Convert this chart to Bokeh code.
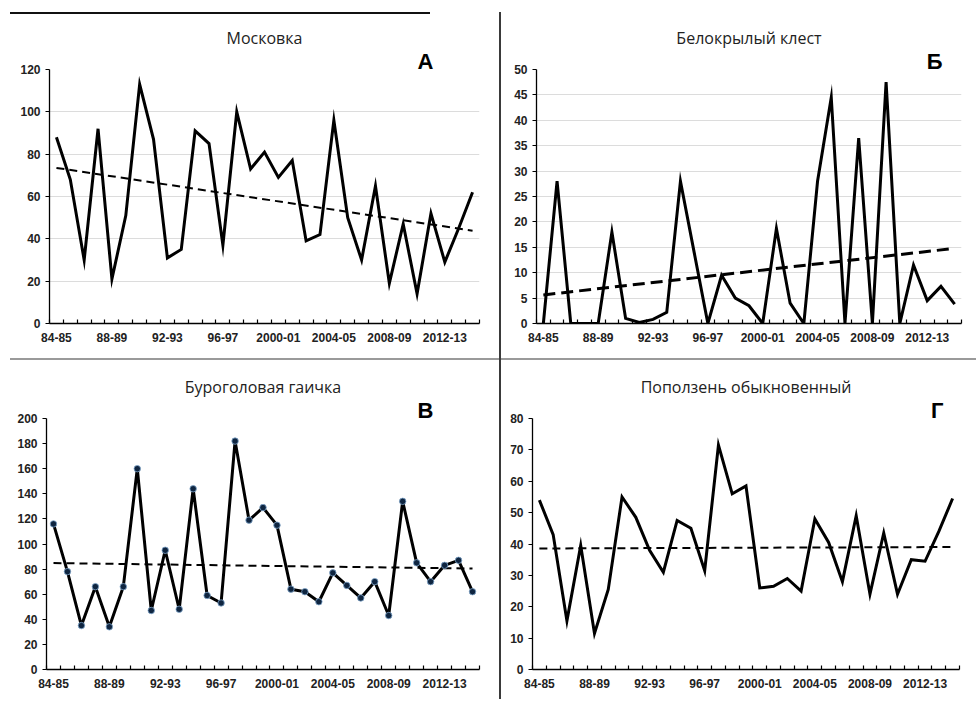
import numpy as np
from bokeh.plotting import figure
from bokeh.layouts import column, row
from bokeh.models import FixedTicker, Div, Title
from bokeh.embed import file_html
from bokeh.resources import INLINE

seasons = ["84-85", "85-86", "86-87", "87-88", "88-89", "89-90", "90-91", "91-92",
           "92-93", "93-94", "94-95", "95-96", "96-97", "97-98", "98-99", "99-00",
           "2000-01", "2001-02", "2002-03", "2003-04", "2004-05", "2005-06", "2006-07",
           "2007-08", "2008-09", "2009-10", "2010-11", "2011-12", "2012-13", "2013-14",
           "2014-15"]

moskovka = [88, 68, 30, 92, 21, 51, 113, 87, 31, 35, 91, 85, 37, 100, 73, 81, 69, 77,
            39, 42, 96, 50, 30, 65, 19, 47, 14, 52, 29, 45, 62]
klest = [0, 28, 0, 0, 0, 18, 1, 0.2, 0.8, 2.2, 28, 14, 0, 9.5, 5, 3.5, 0, 18.7, 4, 0,
         28, 44.5, 0, 36.5, 0, 47.5, 0, 11.5, 4.5, 7.3, 3.8]
gaichka = [116, 78, 35, 66, 34, 66, 160, 47, 95, 48, 144, 59, 53, 182, 119, 129, 115,
           64, 62, 54, 77, 67, 57, 70, 43, 134, 85, 70, 83, 87, 62]
popolzen = [54, 43, 15.5, 39.5, 11.5, 25.5, 55, 48.5, 38, 31, 47.5, 45, 31.5, 71.5, 56,
            58.5, 26, 26.5, 29, 25, 48, 40.5, 28, 49, 24, 43.5, 24, 35, 34.5, 44, 54.5]

titles = ["Московка", "Белокрылый клест", "Буроголовая гаичка", "Поползень обыкновенный"]
letters = ["А", "Б", "В", "Г"]

TICK_FONT = "Liberation Sans"
TITLE_FONT = "Open Sans"


def make_panel(vals, title, letter, ymax, ystep, w, h, bl, br, bt, bb,
               letter_offset, grid, markers, trend_w, trend_dash):
    n = len(seasons)
    xs = list(range(n))
    p = figure(width=w, height=h, output_backend="svg", toolbar_location=None,
               x_range=(-0.5, n - 0.5), y_range=(0, ymax),
               min_border_left=bl, min_border_right=br,
               min_border_top=bt, min_border_bottom=bb)
    p.outline_line_color = None
    p.background_fill_color = "white"
    p.border_fill_color = "white"

    # panel letter, sitting on the top edge of the frame
    lt = Title(text=letter, align="right", offset=letter_offset, standoff=-8,
               text_font="Liberation Sans", text_font_size="22px",
               text_font_style="bold", text_color="black",
               background_fill_color="white")
    p.add_layout(lt, "above")

    p.title.text = title
    p.title.align = "center"
    p.title.text_font = TITLE_FONT
    p.title.text_font_size = "16px"
    p.title.text_font_style = "normal"
    p.title.text_color = "#222222"
    p.title.standoff = 4

    xa = p.xaxis[0]
    xa.ticker = FixedTicker(ticks=list(range(0, n, 4)),
                            minor_ticks=[i - 0.5 for i in range(n + 1)])
    xa.major_label_overrides = {i: seasons[i] for i in range(0, n, 4)}
    xa.major_tick_in = 0
    xa.major_tick_out = 0
    xa.minor_tick_in = 4
    xa.minor_tick_out = 0
    xa.minor_tick_line_color = "black"
    xa.minor_tick_line_width = 1.2
    xa.axis_line_color = "black"
    xa.axis_line_width = 1.3
    xa.major_label_text_font = TICK_FONT
    xa.major_label_text_font_style = "bold"
    xa.major_label_text_font_size = "12px"
    xa.major_label_text_color = "#222222"
    xa.major_label_standoff = 9

    ya = p.yaxis[0]
    ya.ticker = FixedTicker(ticks=list(np.arange(0, ymax + ystep / 2, ystep)))
    ya.major_tick_in = 0
    ya.major_tick_out = 4
    ya.minor_tick_line_color = None
    ya.major_tick_line_color = "black"
    ya.major_tick_line_width = 1.2
    ya.axis_line_color = "black"
    ya.axis_line_width = 1.3
    ya.major_label_text_font = TICK_FONT
    ya.major_label_text_font_style = "bold"
    ya.major_label_text_font_size = "12px"
    ya.major_label_text_color = "#222222"
    ya.major_label_standoff = 5

    p.xgrid.grid_line_color = None
    if grid:
        p.ygrid.grid_line_color = "#dcdcdc"
        p.ygrid.grid_line_width = 1
        p.ygrid.ticker = ya.ticker
    else:
        p.ygrid.grid_line_color = None

    # linear trend computed from the data
    coef = np.polyfit(xs, vals, 1)
    tx = [0, n - 1]
    p.line(tx, list(np.polyval(coef, tx)), line_color="black", line_width=trend_w,
           line_dash=trend_dash)

    p.line(xs, vals, line_color="black", line_width=3,
           line_join="round" if markers else "miter")
    if markers:
        p.scatter(xs, vals, size=6.5, fill_color="#0f2540", line_color="#7fa6cc",
                  line_width=0.8)
    return p


pA = make_panel(moskovka, titles[0], letters[0], 120, 20, 499, 344, 49, 20, 55, 35,
                46, True, False, 2, "8 5")
pB = make_panel(klest, titles[1], letters[1], 50, 5, 475, 344, 35, 15, 55, 35,
                19, True, False, 3, "12 6")
pC = make_panel(gaichka, titles[2], letters[2], 200, 20, 499, 339, 46, 20, 56, 29,
                46, False, True, 2, "8 5")
pD = make_panel(popolzen, titles[3], letters[3], 80, 10, 475, 339, 31, 17, 58, 30,
                16, False, False, 2, "8 5")


def bar(w, h, color):
    return Div(text="", width=w, height=h, margin=0,
               styles={"background-color": color})


top = column(bar(976, 12, "white"),
             row(bar(10, 2, "white"), bar(420, 2, "#111111"), bar(69, 2, "white"),
                 bar(2, 2, "#3a3a3a"), spacing=0),
             spacing=0)
row1 = row(pA, bar(2, 344, "#3a3a3a"), pB, spacing=0)
hline = row(bar(10, 2, "white"), bar(489, 2, "#9a9a9a"), bar(2, 2, "#3a3a3a"),
            bar(475, 2, "#9a9a9a"), spacing=0)
row2 = row(pC, bar(2, 339, "#3a3a3a"), pD, spacing=0)
layout = column(top, row1, hline, row2, spacing=0)

open("out.html", "w").write(file_html(layout, INLINE))
